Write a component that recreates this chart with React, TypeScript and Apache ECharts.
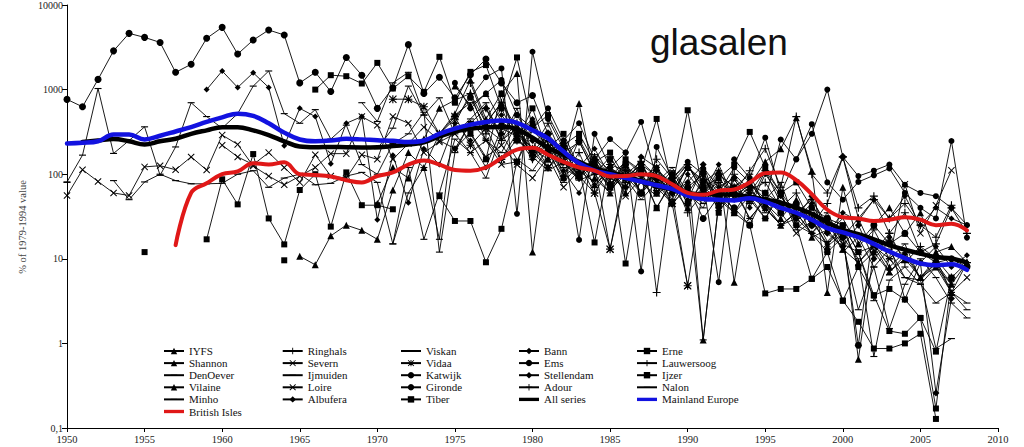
import React, { useEffect, useRef } from "react";
import * as echarts from "echarts";

// ---------- data ----------
const IYFS_START = 1965;
const IYFS = [10.7, 8.5, 18.7, 25, 21.7, 17, 65, 180, 120, 300, 520, 1300, 450, 900, 1550, 12, 260, 140, 685, 90, 60, 150, 110, 40, 80, 130, 60, 110, 5.3, 75, 140, 200, 465, 110, 4.0, 70, 15, 25, 40, 20, 35, 12, 14, 9];
const SHANNON_START = 1975;
const SHANNON = [1100, 650, 900, 420, 300, 180, 220, 95, 130, 75, 110, 60, 140, 95, 70, 120, 1.1, 45, 65, 80, 45, 30, 50, 18, 22, 13, 9, 15, 8, 12, 6, 10, 4, 9];
const DENOEVER_START = 1950;
const DENOEVER = [81, 168, 1030, 176, 250, 363, 97, 210, 700, 480, 350, 520, 1100, 1660, 520, 400, 580, 260, 380, 130, 100, 230, 300, 540, 12, 180, 420, 260, 150, 310, 200, 120, 170, 90, 130, 65, 100, 140, 60, 90, 45, 80, 110, 50, 70, 35, 55, 28, 40, 20, 30, 14, 22, 10, 15, 5.6, 0.87, 1.14, null];
const VILAINE_START = 1970;
const VILAINE = [45, 120, 90, 260, 600, 750, 900, 400, 700, 350, 200, 150, 250, 110, 140, 80, 95, 60, 120, 70, 40, 90, 55, 35, 70, 40, 25, 35, 30, 14, 20, 0.65, 12, 7, 10, 6, 8, 5, 9];
const MINHO_START = 1950;
const MINHO = [80, null, null, 84, 50, 81, 100, 84, 77, 77, 78, 100, 110, 70, 90, 100, 75, 78, 95, 105, 80, 15, 120, 17, 60, 260, 180, 90, 300, 150, 110, 200, 80, 130, 60, 120, 90, 50, 80, 120, 60, 40, 100, 70, 30, 50, 80, 25, 20, 35, 15, 2.5, 8, 1.5, 5, 10, 6, 3, 2];
const RINGHALS_START = 1977;
const RINGHALS = [600, 250, 400, 150, 300, 95, 180, 70, 130, 110, 60, 150, 90, 35, 60, 80, 60, 110, 200, 70, 480, 100, 60, 160, 40, 55, 30, 45, 25, 18, 43];
const SEVERN_START = 1950;
const SEVERN = [56, 113, 82, 60, 56, 122, 126, 113, 160, 112, 290, 225, 125, 95, 75, 95, 120, 175, 175, 480, 380, 150, 230, 360, 250, 200, 310, 160, 220, 130, 90, 160, 70, 110, 80, 130, 55, 90, 120, 45, 70, 100, 40, 65, 30, 50, 35, 20, 28, 15, 22, 9, 14, 7, 11, 6, 9, 4, 6];
const IJMUIDEN_START = 1969;
const IJMUIDEN = [700, 420, 1200, 1600, 500, 300, 450, 800, 350, 250, 600, 180, 250, 140, 90, 170, 75, 120, 60, 95, 50, 130, 70, 40, 85, 55, 30, 60, 22, 35, 16, 25, 12, 3.2, 10, 6, 5, 8, 4, 3];
const LOIRE_START = 1960;
const LOIRE = [220, 160, 130, 180, 120, 80, 170, 95, 90, 170, 150, 480, 400, 180, 240, 300, 180, 250, 130, 140, 330, 210, 140, 100, 130, 13, 110, 80, 95, 60, 4.8, 70, 90, 55, 75, 60, 45, 40, 30, 25, 15, 12, 14, 10, 76, 20, 43, 111];
const ALBUFERA_START = 1975;
const ALBUFERA = [200, 400, 600, 300, 500, 250, 120, 200, 90, 150, 100, 70, 160, 120, 60, 80, 130, 40, 90, 60, 110, 45, 30, 55, 20, 14, 25, 10, 16, 3.3, 9, 0.26, 3.4];
const VISKAN_START = 1971;
const VISKAN = [15, 60, 120, 17, 500, 700, 250, 180, 400, 160, 110, 140, 85, 100, 60, 120, 95, 70, 110, 55, 1.1, 45, 70, 100, 40, 25, 35, 20, 30, 12, 18, 8, 13, 6, 5.6, 9, 5];
const VIDAA_START = 1971;
const VIDAA = [770, 770, 626, 300, 480, 220, 350, 150, 260, 180, 120, 200, 95, 60, 13, 90, 130, 70, 45, 4.8];
const KATWIJK_START = 1976;
const KATWIJK = [800, 1400, 1780, 34, 2800, 450, 200, 16.7, 300, 120, 180, 415, 90, 60, 120, 80, 5.3, 150, 90, 270, 60, 150, 390, 80, 50, 81, 97, 117, 60, 40, 30, 247, 17.8];
const GIRONDE_START = 1975;
const GIRONDE = [1200, 600, 900, 1300, 500, 350, 600, 250, 400, 150, 260, 180, 7.1, 210, 90, 140, 100, 60, 120, 80, 50, 257, 150, 300, 1000, 160, 95, 110, 130, 75, 60, 55, 40, 25];
const TIBER_START = 1955;
const TIBER = [12, null, null, null, null, null, null, null, null, 9.6, null, null, null, null, null, null, null, null, null, null, null, 300, 150, 900, 250, 600, 180, 90, 260, 120, 70, 150, 100, 40, 85, 60, 110, 35, 70, 50, 30, 60, 25, 5.8, 12, 3.2, 8, 3.7, 4.4, 3.3, 2.0, 0.8, 6.0];
const BANN_START = 1959;
const BANN = [1000, 1660, 1060, 1580, 1060, 217, 600, 480, 133, 400, 480, 29, 168, 46, 200, 130, 400, 250, 120, 350, 280, 150, 200, 110, 60, 140, 90, 70, 120, 80, 45, 100, 60, 130, 50, 80, 45, 25, 35, 20, 15, 25, 8, 12, 18, 10, 9, 14, 8, 11];
const EMS_START = 1950;
const EMS = [766, 626, 1320, 2870, 4620, 4140, 3610, 1600, 1990, 4040, 5440, 2630, 3850, 5060, 4420, 1200, 1600, 950, 2400, 1480, 600, 1050, 3400, 900, 1400, 800, 1500, 2300, 1200, 700, 850, 300, 180, 240, 110, 75, 130, 60, 90, 45, 70, 30, 55, 40, 25, 60, 35, 45, 25, 30, 18, 0.95, 25, 15, 20, 12, 9, 10, 8];
const STELLENDAM_START = 1978;
const STELLENDAM = [500, 300, 450, 180, 250, 120, 200, 95, 140, 60, 110, 80, 50, 120, 70, 90, 40, 100, 55, 30, 45, 20, 35, 28, 50, 30, 55, 25, 40, 30, 25];
const ADOUR_START = 1975;
const ADOUR = [400, 900, 300, 600, 250, 180, 300, 140, 90, 160, 110, 70, 130, 95, 60, 120, 85, 55, 100, 65, 80, 40, 60, 25, 45, 160, 30, 50, 20, 35, 12, 15, 40, 20];
const ERNE_START = 1959;
const ERNE = [17, 87, 44, 173, 30, 14.8, 65, 100, 24, 105, 43, 43, 38.5, null, null, 55, 28, 28, 9.1, 22.6, 140, 400, 200, 300, 120, 15.6, 150, 8.8, 110, 450, 70, 570, 60, 90, 130, 316, 120, 60, 80, 40, 30, 25, 12, 3.7, 1.4, 1.3, 2.0, 0.17, 5.8];
const LAUWERSOOG_START = 1976;
const LAUWERSOOG = [1200, 400, 700, 300, 200, 400, 150, 250, 100, 160, 80, 120, 4.0, 90, 130, 60, 100, 70, 45, 110, 60, 35, 50, 25, 18, 30, 12, 20, 9, 14, 10, 6, 9];
const IJZER_START = 1966;
const IJZER = [1000, 1480, 1440, 1180, 2070, 1030, 1440, 940, 2440, 700, 1620, 1950, 600, 2400, 350, 500, 220, 300, 140, 180, 90, 130, 60, 100, 45, 70, 50, 35, 25, 3.9, 4.4, 4.4, 5.8, 8, 3.2, 1.8, 0.87, 0.87, 1.0, 1.3, 0.128];
const NALON_START = 1970;
const NALON = [200, 350, 1100, 500, 800, 300, 450, 700, 250, 350, 160, 220, 120, 90, 150, 70, 110, 80, 55, 90, 60, 45, 80, 35, 55, 40, 25, 30, 20, 12, 18, 10, 0.7, 5.6, 8, 5, 3, 4, 2.5];

const ALL_START = 1951;
const ALL_SERIES = [240, 250, 260, 245, 225, 245, 262, 300, 330, 360, 360, 330, 290, 245, 212, 208, 210, 208, 207, 208, 215, 225, 238, 280, 320, 345, 358, 365, 340, 270, 205, 170, 140, 118, 105, 95, 83, 73, 66, 60, 58, 58, 57, 54, 50, 46, 40, 34, 27, 22, 19.5, 17, 14.5, 12.8, 11.5, 10.5, 10.1, 9.0];
const MAINLAND_START = 1950;
const MAINLAND = [231, 235, 245, 295, 295, 258, 285, 320, 360, 415, 470, 520, 490, 400, 310, 257, 245, 250, 262, 258, 252, 248, 240, 250, 300, 345, 385, 415, 432, 405, 330, 265, 185, 135, 110, 100, 90, 82, 74, 67, 56, 51, 50, 49, 52, 47, 40, 35, 29, 23, 20.5, 18, 15, 12.2, 10.2, 8.8, 8.4, 8.6, 7.4];
const BRITISH_START = 1957;
const BRITISH = [14.5, 60, 78, 100, 108, 135, 130, 138, 100, 98, 94, 85, 80, 95, 105, 130, 145, 130, 112, 110, 120, 155, 195, 205, 170, 140, 120, 110, 94, 95, 100, 95, 76, 60, 57, 64, 66, 80, 103, 105, 85, 58, 38, 31, 30, 28, 29, 31, 29, 25, 26, 21.7];

const LEGEND_COLUMNS = [
  ["IYFS", "Shannon", "DenOever", "Vilaine", "Minho", "British Isles"],
  ["Ringhals", "Severn", "Ijmuiden", "Loire", "Albufera"],
  ["Viskan", "Vidaa", "Katwijk", "Gironde", "Tiber"],
  ["Bann", "Ems", "Stellendam", "Adour", "All series"],
  ["Erne", "Lauwersoog", "Ijzer", "Nalon", "Mainland Europe"],
];

// ---------- styling ----------
const SERIF = "Liberation Serif, DejaVu Serif, Noto Serif, serif";
const PLUS = "path://M4.3,0H5.7V4.3H10V5.7H5.7V10H4.3V5.7H0V4.3H4.3Z";
const CROSS = "path://M1,0L5,4L9,0L10,1L6,5L10,9L9,10L5,6L1,10L0,9L4,5L0,1Z";
const STAR = "path://M4.3,0H5.7V4.3H10V5.7H5.7V10H4.3V5.7H0V4.3H4.3ZM1,0L5,4L9,0L10,1L6,5L10,9L9,10L5,6L1,10L0,9L4,5L0,1Z";
const DASH = "path://M0,0M10,10M0,4.2H10V5.8H0Z";

type Def = [string, number, (number | null)[], string, number];
const INDIVIDUAL: Def[] = [
  ["IYFS", IYFS_START, IYFS, "triangle", 7],
  ["Shannon", SHANNON_START, SHANNON, "triangle", 7],
  ["DenOever", DENOEVER_START, DENOEVER, DASH, 7],
  ["Vilaine", VILAINE_START, VILAINE, "triangle", 7],
  ["Minho", MINHO_START, MINHO, DASH, 7],
  ["Ringhals", RINGHALS_START, RINGHALS, PLUS, 8],
  ["Severn", SEVERN_START, SEVERN, CROSS, 7],
  ["Ijmuiden", IJMUIDEN_START, IJMUIDEN, DASH, 7],
  ["Loire", LOIRE_START, LOIRE, CROSS, 7],
  ["Albufera", ALBUFERA_START, ALBUFERA, "diamond", 7],
  ["Viskan", VISKAN_START, VISKAN, DASH, 7],
  ["Vidaa", VIDAA_START, VIDAA, STAR, 8],
  ["Katwijk", KATWIJK_START, KATWIJK, "circle", 6],
  ["Gironde", GIRONDE_START, GIRONDE, "circle", 6],
  ["Tiber", TIBER_START, TIBER, "rect", 6],
  ["Bann", BANN_START, BANN, "diamond", 6],
  ["Ems", EMS_START, EMS, "circle", 7],
  ["Stellendam", STELLENDAM_START, STELLENDAM, "diamond", 6],
  ["Adour", ADOUR_START, ADOUR, PLUS, 8],
  ["Erne", ERNE_START, ERNE, "rect", 6],
  ["Lauwersoog", LAUWERSOOG_START, LAUWERSOOG, PLUS, 8],
  ["Ijzer", IJZER_START, IJZER, "rect", 6],
  ["Nalon", NALON_START, NALON, DASH, 7],
];

const THICK: Record<string, string> = {
  "All series": "#000000",
  "Mainland Europe": "#1212e0",
  "British Isles": "#e01818",
};
const THICK_WIDTH: Record<string, number> = {
  "All series": 4.5,
  "Mainland Europe": 4.5,
  "British Isles": 4,
};

const toPairs = (start: number, vals: (number | null)[]) =>
  vals.map((v, i) => [start + i, v === null ? "-" : v]);

export default function App() {
  const ref = useRef<HTMLDivElement>(null);
  useEffect(() => {
    if (!ref.current) return;
    const chart = echarts.init(ref.current, undefined, { renderer: "svg" });
    const thinSeries = INDIVIDUAL.map(([name, start, vals, symbol, size]) => ({
      name,
      type: "line",
      data: toPairs(start, vals),
      symbol,
      symbolSize: size,
      showSymbol: true,
      showAllSymbol: true,
      connectNulls: false,
      color: "#000",
      lineStyle: { color: "#000", width: 0.9 },
      itemStyle: { color: "#000", borderWidth: 0 },
      emphasis: { disabled: true },
      silent: true,
      z: 2,
    }));
    const thick = (name: string, start: number, vals: number[], z: number) => ({
      name,
      type: "line",
      data: toPairs(start, vals),
      symbol: "none",
      smooth: 0.4,
      color: THICK[name],
      lineStyle: { color: THICK[name], width: THICK_WIDTH[name], cap: "round" },
      itemStyle: { color: THICK[name] },
      emphasis: { disabled: true },
      silent: true,
      z,
    });
    const lefts = [163, 281.7, 400, 518, 636];
    chart.setOption({
      animation: false,
      backgroundColor: "#ffffff",
      grid: { left: 67, right: 26, top: 5, bottom: 19 },
      xAxis: {
        type: "value",
        min: 1950,
        max: 2010,
        interval: 5,
        axisLine: { show: true, lineStyle: { color: "#000", width: 1 } },
        axisTick: { show: true, length: 4, lineStyle: { color: "#000" } },
        axisLabel: {
          fontFamily: SERIF,
          fontSize: 10.5,
          color: "#222",
          margin: 6,
          formatter: (v: number) => String(Math.round(v)),
        },
        splitLine: { show: false },
      },
      yAxis: {
        type: "log",
        logBase: 10,
        min: 0.1,
        max: 10000,
        axisLine: { show: true, lineStyle: { color: "#000", width: 1 } },
        axisTick: { show: true, length: 5, lineStyle: { color: "#000" } },
        axisLabel: {
          fontFamily: SERIF,
          fontSize: 10,
          color: "#222",
          margin: 4,
          formatter: (v: number) => (v < 0.5 ? "0,1" : String(Math.round(v))),
        },
        splitLine: { show: false },
        minorTick: { show: false },
      },
      legend: LEGEND_COLUMNS.map((names, i) => ({
        orient: "vertical",
        left: lefts[i],
        top: 345,
        padding: 0,
        itemGap: 0.1,
        itemWidth: 20,
        itemHeight: 8,
        selectedMode: false,
        textStyle: { fontFamily: SERIF, fontSize: 11, color: "#111", lineHeight: 12 },
        data: names.map((n) => (THICK[n] ? { name: n, icon: "path://M0,0H24V4H0Z" } : n)),
      })),
      graphic: [
        {
          type: "text",
          x: 650,
          y: 42,
          style: {
            text: "glasalen",
            fontSize: 37,
            fontFamily: "Liberation Sans, Arial, sans-serif",
            fill: "#111",
            align: "left",
            verticalAlign: "middle",
          },
        },
        {
          type: "text",
          x: 22,
          y: 227,
          rotation: Math.PI / 2,
          style: {
            text: "% of 1979-1994 value",
            fontSize: 10.5,
            fontFamily: SERIF,
            fill: "#444",
            align: "center",
            verticalAlign: "middle",
          },
        },
      ],
      series: [
        ...thinSeries,
        thick("All series", ALL_START, ALL_SERIES, 3),
        thick("Mainland Europe", MAINLAND_START, MAINLAND, 4),
        thick("British Isles", BRITISH_START, BRITISH, 5),
      ],
    });
    return () => chart.dispose();
  }, []);
  return (
    <div
      ref={ref}
      style={{ position: "fixed", left: 0, top: 0, width: 1024, height: 447, background: "#fff" }}
    />
  );
}
